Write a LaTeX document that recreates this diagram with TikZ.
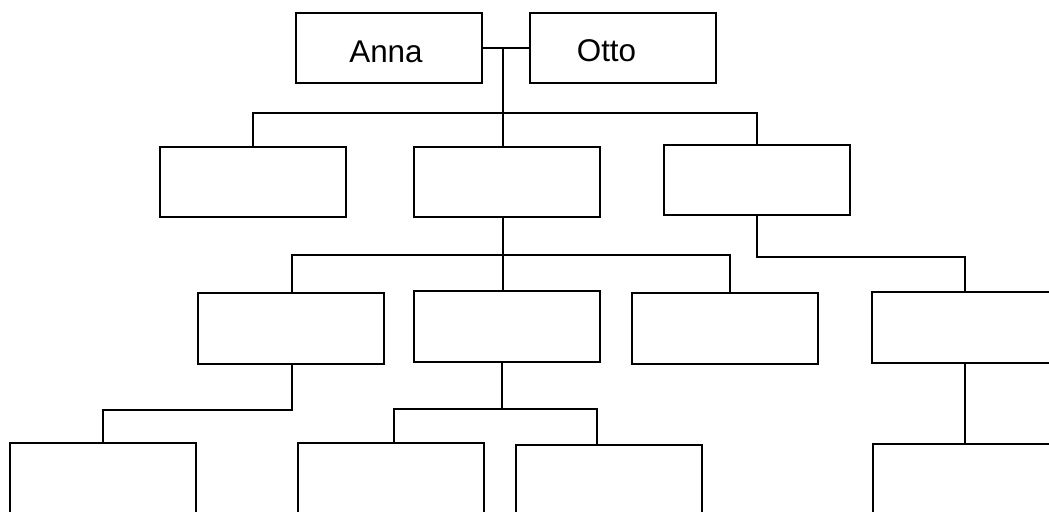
\documentclass[tikz,border=0pt]{standalone}
\usepackage{fontspec}
\setmainfont{Liberation Sans}
\usetikzlibrary{calc}

\tikzset{
  person/.style={draw, rectangle, line width=1pt, inner sep=0pt, outer sep=0pt,
                 minimum width=93pt, minimum height=35pt},
  tall/.style={minimum height=35.5pt},
  link/.style={line width=1pt, line cap=rect},
  namelabel/.style={anchor=base, inner sep=0pt, font=\fontsize{15.7}{19}\selectfont}
}

\begin{document}
\begin{tikzpicture}[x=0.5pt, y=-0.5pt]
  \fill[white] (0,0) rectangle (1049,512);
  \useasboundingbox (0,0) rectangle (1049,512);
  \begin{scope}
    \clip (0,0) rectangle (1049,512);

    % couple
    \node[person] (anna) at (389,48) {};
    \node[person] (otto) at (623,48) {};
    \node[namelabel] (annaname) at (386,62.5) {Anna};
    \node[namelabel] (ottoname) at (606.5,61.5) {Otto};

    % children
    \node[person] (a1) at (253,182.5) {};
    \node[person] (b1) at (507,182.5) {};
    \node[person] (c1) at (757,180.5) {};

    % grandchildren
    \node[person, tall] (d2) at (290.5,328.5) {};
    \node[person, tall] (e2) at (507,326.5) {};
    \node[person, tall] (f2) at (725,328.5) {};
    \node[person, tall] (g2) at (965,328) {};

    % great-grandchildren
    \node[person] (i3) at (103,478) {};
    \node[person] (j3) at (391,478) {};
    \node[person] (k3) at (609,480) {};
    \node[person] (h3) at (966,479) {};

    % marriage line and descent
    \coordinate (m) at (503,48);
    \coordinate (y1) at (0,113);
    \coordinate (y2) at (0,255);
    \coordinate (y3) at (0,410);
    \draw[link] (anna.east) -- (otto.west);
    \draw[link] (m) -- (m |- b1.north);
    \draw[link] (a1.north) |- (y1 -| c1.north) -- (c1.north);

    % from the middle child
    \coordinate (mb) at (503,0);
    \draw[link] (mb |- b1.south) -- (mb |- e2.north);
    \coordinate (fr) at (730,0);
    \draw[link] ($(d2.north)+(1.5,0)$) |- (y2 -| fr) -- (fr |- f2.north);

    % from the right child
    \coordinate (y2r) at (0,257);
    \draw[link] (c1.south) |- (y2r -| g2.north) -- (g2.north);
    \draw[link] (g2.south) -- (g2.south |- h3.north);

    % from the first grandchild
    \coordinate (dl) at (292,0);
    \draw[link] (dl |- d2.south) |- (y3 -| i3.north) -- (i3.north);

    % from the second grandchild
    \coordinate (el) at (501.5,0);
    \coordinate (y3b) at (0,409);
    \coordinate (jl) at (393.5,0);
    \coordinate (kl) at (597,0);
    \draw[link] (el |- e2.south) -- (el |- y3b);
    \draw[link] (jl |- j3.north) |- (y3b -| kl) -- (kl |- k3.north);
  \end{scope}
\end{tikzpicture}
\end{document}
